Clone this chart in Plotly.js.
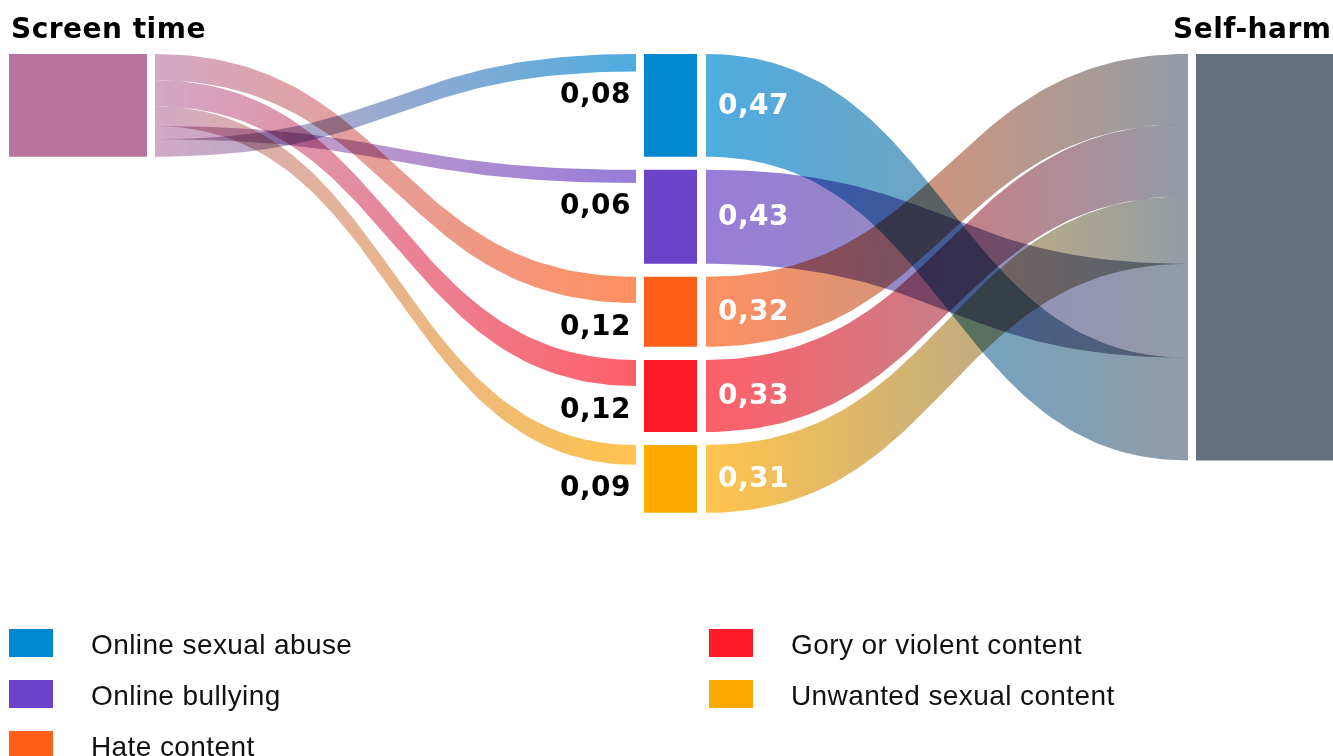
<!DOCTYPE html>
<html><head><meta charset="utf-8">
<script src="https://cdn.plot.ly/plotly-3.0.1.min.js"></script>
<style>html,body{margin:0;padding:0;background:#fff}#chart{width:1333px;height:756px}
#chart .js-fill{mix-blend-mode:multiply}</style>
</head><body><div id="chart"></div>
<script>
// ---------------- data ----------------
const sourceName = "Screen time";
const sinkName = "Self-harm";
const categories = ["Online sexual abuse", "Online bullying", "Hate content", "Gory or violent content", "Unwanted sexual content"];
const screenTimeValues = [0.08, 0.06, 0.12, 0.12, 0.09];   // Screen time -> category
const selfHarmValues   = [0.47, 0.43, 0.32, 0.33, 0.31];   // category -> Self-harm
const stackOrder = [2, 3, 4, 1, 0];                          // band order (top->bottom) at Screen time and Self-harm

// ---------------- style ----------------
const catColors = ["#0288D1", "#6944C8", "#FF5F1A", "#FF1A28", "#FFAA00"];
const sourceColor = "#B8749F";
const sinkColor = "#63717F";
const LINK_ALPHA = 0.7;
const NODE_GAP = 0.06;          // gap between middle nodes, in value units
const PX_PER_UNIT = 218.5;
const TOP_PX = 54, W = 1333, H = 756;
const COL = {src: [9, 147], srcLinkEnd: 155, midLinkIn: 636, mid: [644, 697], midLinkOut: 706, sinkLinkIn: 1188, sink: [1196, 1333]};
const NUM_FONT = "DejaVu Sans";
const TXT_FONT = "Liberation Sans";

function rgba(hex, a) {
  const n = parseInt(hex.slice(1), 16);
  return `rgba(${(n >> 16) & 255},${(n >> 8) & 255},${n & 255},${a})`;
}
const fmt = v => v.toFixed(2).replace(".", ",");
const wide = (t, sp) => `<span style="letter-spacing:${sp}px">${t}</span>`;

// ---------------- layout computations ----------------
const nodeVal = categories.map((c, i) => Math.max(screenTimeValues[i], selfHarmValues[i]));
const midTop = [];
let acc = 0;
nodeVal.forEach((v, i) => { midTop.push(acc); acc += v + NODE_GAP; });

const srcOff = {}, sinkOff = {};
let so = 0, ko = 0;
stackOrder.forEach(i => { srcOff[i] = so; so += screenTimeValues[i]; sinkOff[i] = ko; ko += selfHarmValues[i]; });
const srcTotal = so, sinkTotal = ko;

const traces = [];
function rect(x0, x1, y0, y1, color) {
  traces.push({type: "scatter", mode: "lines", x: [x0, x1, x1, x0, x0], y: [y0, y0, y1, y1, y0],
    fill: "toself", fillcolor: color, line: {width: 0}, hoverinfo: "skip", showlegend: false});
}
function ribbon(x0, y0, x1, y1, w, c0, c1) {
  const N = 80, xs = [], ys = [], xm = (x0 + x1) / 2;
  const bez = (t, a, b, c, d) => (1 - t) ** 3 * a + 3 * (1 - t) ** 2 * t * b + 3 * (1 - t) * t * t * c + t ** 3 * d;
  for (let k = 0; k <= N; k++) { const t = k / N; xs.push(bez(t, x0, xm, xm, x1)); ys.push(bez(t, y0, y0, y1, y1)); }
  for (let k = N; k >= 0; k--) { const t = k / N; xs.push(bez(t, x0, xm, xm, x1)); ys.push(bez(t, y0, y0, y1, y1) + w); }
  xs.push(xs[0]); ys.push(ys[0]);
  traces.push({type: "scatter", mode: "lines", x: xs, y: ys, fill: "toself",
    fillgradient: {type: "horizontal", colorscale: [[0, c0], [1, c1]]},
    fillcolor: c1, line: {width: 0}, hoverinfo: "skip", showlegend: false});
}

// left links
stackOrder.slice().reverse().forEach(i => {
  ribbon(COL.srcLinkEnd, srcOff[i], COL.midLinkIn, midTop[i], screenTimeValues[i],
    rgba(sourceColor, 0.62), rgba(catColors[i], LINK_ALPHA));
});
// right links
categories.forEach((c, i) => {
  ribbon(COL.midLinkOut, midTop[i], COL.sinkLinkIn, sinkOff[i], selfHarmValues[i],
    rgba(catColors[i], LINK_ALPHA), rgba(sinkColor, LINK_ALPHA));
});
// nodes
rect(COL.src[0], COL.src[1], 0, srcTotal, sourceColor);
categories.forEach((c, i) => rect(COL.mid[0], COL.mid[1], midTop[i], midTop[i] + nodeVal[i], catColors[i]));
rect(COL.sink[0], COL.sink[1], 0, sinkTotal, sinkColor);

// ---------------- annotations ----------------
const annotations = [];
annotations.push({x: COL.src[0], y: 0, xref: "x", yref: "y", xanchor: "left", yanchor: "bottom", yshift: 7,
  text: "<b>" + wide(sourceName, 0.5) + "</b>", showarrow: false, font: {family: NUM_FONT, size: 28, color: "#000"}});
annotations.push({x: COL.sink[1], y: 0, xref: "x", yref: "y", xanchor: "right", yanchor: "bottom", yshift: 7,
  text: "<b>" + wide(sinkName, 0.5) + "</b>", showarrow: false, font: {family: NUM_FONT, size: 28, color: "#000"}});
categories.forEach((c, i) => {
  annotations.push({x: COL.midLinkIn - 3, y: midTop[i] + screenTimeValues[i], xref: "x", yref: "y",
    xanchor: "right", yanchor: "middle", yshift: -22, showarrow: false,
    text: "<b>" + wide(fmt(screenTimeValues[i]), 0.5) + "</b>", font: {family: NUM_FONT, size: 28, color: "#000"}});
  annotations.push({x: COL.midLinkOut + 10, y: midTop[i] + nodeVal[i] / 2, xref: "x", yref: "y",
    xanchor: "left", yanchor: "middle", yshift: 1, showarrow: false,
    text: "<b>" + wide(fmt(selfHarmValues[i]), 0.5) + "</b>", font: {family: NUM_FONT, size: 28, color: "#fff"}});
});

// legend (two columns, column-major)
const shapes = [];
const LEG = {colX: [9, 709], rowY0: 643, rowStep: 51, sw: 44, sh: 28, textDx: 80, perCol: 3};
categories.forEach((c, i) => {
  const col = Math.floor(i / LEG.perCol), row = i % LEG.perCol;
  const cy = LEG.rowY0 + row * LEG.rowStep;
  const x0 = LEG.colX[col];
  shapes.push({type: "rect", xref: "x", yref: "paper", x0: x0, x1: x0 + LEG.sw,
    y0: 1 - (cy - LEG.sh / 2) / H, y1: 1 - (cy + LEG.sh / 2) / H, fillcolor: catColors[i], line: {width: 0}});
  annotations.push({x: x0 + LEG.textDx, y: 1 - (cy + 1) / H, xref: "x", yref: "paper", xanchor: "left", yanchor: "middle",
    showarrow: false, text: wide(c, 0.4), font: {family: TXT_FONT, size: 28, color: "#111"}});
});

const layout = {
  width: W, height: H, margin: {l: 0, r: 0, t: 0, b: 0},
  paper_bgcolor: "#fff", plot_bgcolor: "#fff", showlegend: false,
  xaxis: {range: [0, W], visible: false, fixedrange: true},
  yaxis: {range: [(H - TOP_PX) / PX_PER_UNIT, -TOP_PX / PX_PER_UNIT], visible: false, fixedrange: true},
  annotations: annotations, shapes: shapes
};
Plotly.newPlot("chart", traces, layout, {staticPlot: true, displayModeBar: false});
</script></body></html>
